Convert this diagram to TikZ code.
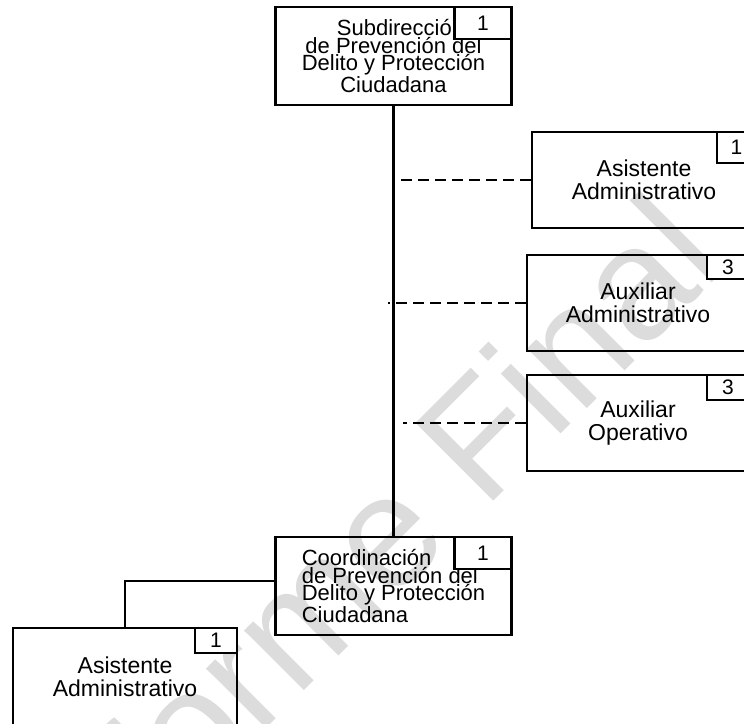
\documentclass[tikz,border=0pt]{standalone}
\usepackage{fontspec}
\setmainfont{Liberation Sans}
\usepackage{tikz}
\usepackage{xcolor}
\usetikzlibrary{positioning}
\definecolor{WatermarkGray}{HTML}{DCDCDC}

\begin{document}
\begin{tikzpicture}[x=1pt, y=-1pt, node distance=5cm, on grid,
    unit/.style={rectangle, draw, line width=2.3pt, inner sep=0pt, align=center, font=\fontsize{23}{23}\selectfont},
    tight/.style={unit, minimum width=236pt, minimum height=98pt, font=\fontsize{22}{17.5}\selectfont},
    tag/.style={rectangle, draw, line width=2.3pt, fill=white, inner sep=0pt, anchor=north east, font=\fontsize{21}{21}\selectfont},
    link/.style={line width=2.2pt},
    aux/.style={line width=2.2pt, dash pattern=on 11pt off 6pt}]

        \clip (0,0) rectangle (744,723);

        % watermark
        \node[rotate=45, anchor=base, text=WatermarkGray, font=\fontsize{160}{160}\selectfont] (mark) at (400,595) {Informe Final};

        \node[tight] (sub) at (393.5,56) {\hspace*{14pt}Subdirección\\de Prevención del\\Delito y Protección\\Ciudadana};
        \node[tag, minimum width=57pt, minimum height=32pt] (subn) at (sub.north east) {1};

        \node[tight, align=left, below=530pt of sub] (coord) {Coordinación\\de Prevención del\\Delito y Protección\\Ciudadana};
        \node[tag, minimum width=57pt, minimum height=32pt] (coordn) at (coord.north east) {1};

        \node[unit, minimum width=224pt, minimum height=96pt] (asis) at (644,180) {Asistente\\Administrativo};
        \node[tag, minimum width=39pt, minimum height=31pt] (asisn) at (asis.north east) {1};

        \node[unit, minimum width=222pt, minimum height=96pt] (auxadm) at (638,303) {Auxiliar\\Administrativo};
        \node[tag, minimum width=42pt, minimum height=24pt] (auxadmn) at (auxadm.north east) {3};

        \node[unit, minimum width=222pt, minimum height=96pt] (auxop) at (638,423) {Auxiliar\\Operativo};
        \node[tag, minimum width=42pt, minimum height=25pt] (auxopn) at (auxop.north east) {3};

        \node[unit, minimum width=224pt, minimum height=97pt] (asisc) at (125,676.5) {Asistente\\Administrativo};
        \node[tag, minimum width=42pt, minimum height=25pt] (asiscn) at (asisc.north east) {1};

        \draw[link] (sub.south) -- (coord.north);
        \draw[link] ([yshift=5pt]coord.west) -| (asisc.north);

        \draw[aux] (asis.west) -- (asis.west -| sub.south);
        \draw[aux] (auxadm.west) -- ([xshift=-6pt]auxadm.west -| sub.south);
        \draw[aux] (auxop.west) -- ([xshift=9pt]auxop.west -| sub.south);

    \end{tikzpicture}
\end{document}
